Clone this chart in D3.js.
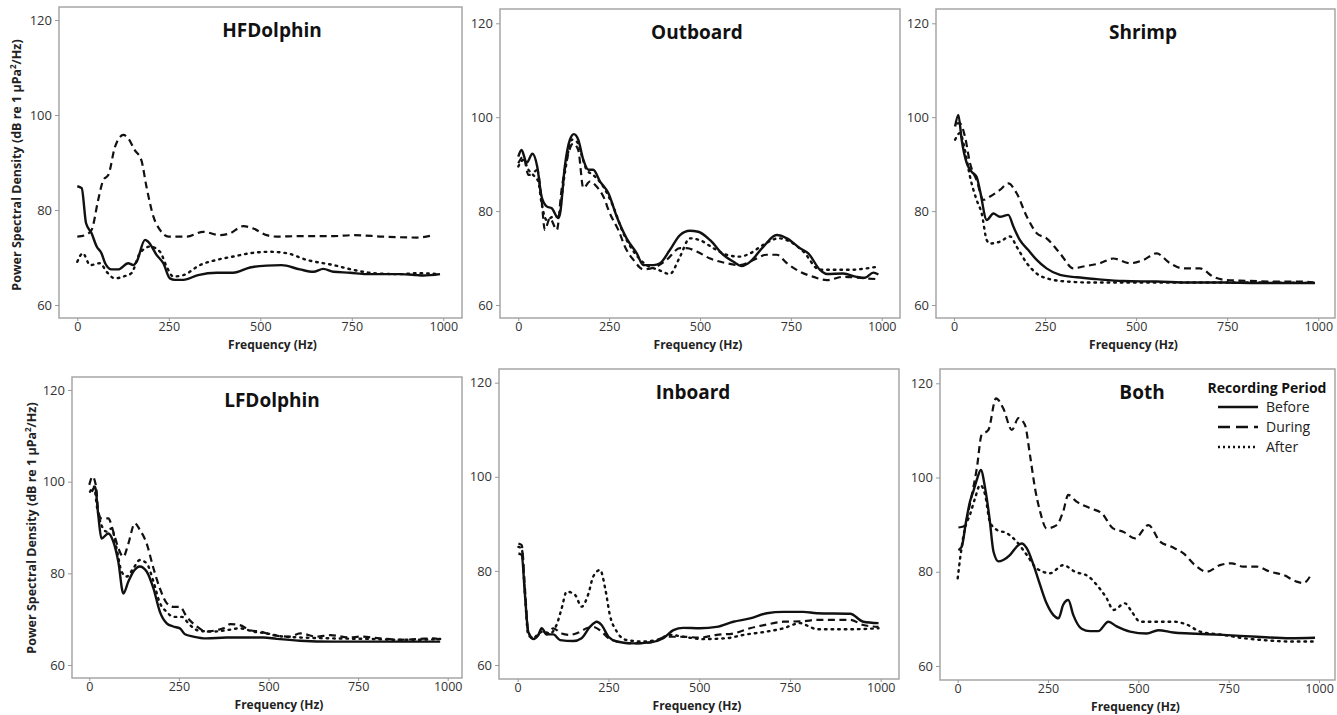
<!DOCTYPE html>
<html><head><meta charset="utf-8">
<script src="https://cdn.jsdelivr.net/npm/d3@7"></script>
<style>
body{margin:0;background:#fff;}
svg text{font-family:"Open Sans","Noto Sans",sans-serif;}
</style></head>
<body><svg id="c" width="1337" height="715"></svg>
<script>
// ---------- data (frequency Hz, PSD dB) ----------
const panelNames = ["HFDolphin","Outboard","Shrimp","LFDolphin","Inboard","Both"];
const periods = ["Before","During","After"];
const xTicks = [0,250,500,750,1000];
const yTicks = [60,80,100,120];

const hfBefore = [[0,85.0],[12,84.6],[24,77.2],[39,75.1],[53,72.3],[66,70.9],[76,68.8],[94,67.5],[112,67.5],[139,68.8],[153,68.4],[162,69.1],[185,73.7],[194,73.3],[217,70.5],[235,68.8],[253,65.6],[267,65.3],[290,65.3],[330,66.3],[381,66.8],[426,66.8],[472,67.9],[517,68.3],[558,68.4],[608,67.5],[645,67.0],[672,67.6],[700,67.0],[745,66.8],[790,66.5],[882,66.5],[927,66.3],[945,66.2],[991,66.5]];
const hfDuring = [[0,74.4],[21,74.7],[39,75.8],[57,82.1],[71,86.3],[85,87.4],[103,93.3],[126,95.8],[139,95.1],[157,92.6],[175,90.5],[189,84.9],[208,78.6],[226,75.8],[249,74.4],[299,74.4],[344,75.4],[390,74.7],[417,75.1],[454,76.6],[481,76.1],[517,74.7],[545,74.4],[608,74.5],[700,74.5],[754,74.7],[836,74.4],[927,74.2],[973,74.7]];
const hfAfter = [[0,69.1],[15,70.9],[35,68.4],[62,68.8],[80,67.0],[103,65.6],[126,66.0],[148,66.7],[171,70.9],[199,72.3],[226,71.2],[244,68.1],[262,66.0],[290,66.3],[335,68.4],[381,69.5],[426,70.2],[472,70.9],[526,71.2],[572,70.9],[627,69.5],[700,68.4],[754,67.4],[809,66.7],[882,66.5],[927,66.7],[991,66.5]];

const obBefore = [[0,91.6],[9,93.0],[23,90.3],[39,92.2],[52,89.5],[64,83.1],[78,81.0],[92,80.6],[110,78.5],[115,79.5],[128,89.5],[142,95.2],[153,96.4],[165,95.2],[179,90.9],[193,88.8],[206,88.8],[225,86.3],[248,83.8],[271,78.8],[298,74.2],[326,71.0],[344,68.5],[372,68.5],[390,68.9],[417,71.7],[445,74.9],[472,75.8],[495,75.6],[528,73.8],[564,70.7],[592,69.2],[615,68.3],[638,69.2],[674,72.4],[711,74.9],[739,74.2],[775,72.1],[798,71.0],[830,67.5],[849,66.6],[894,66.7],[931,66.0],[954,65.8],[977,66.9],[991,66.5]];
const obDuring = [[0,90.2],[14,91.6],[28,87.7],[41,88.1],[52,88.8],[64,82.4],[73,76.0],[87,78.5],[106,76.0],[119,84.5],[138,92.3],[151,94.4],[165,93.0],[179,84.9],[197,86.3],[216,85.2],[234,83.1],[252,79.5],[275,76.0],[298,71.7],[317,69.6],[344,67.6],[381,68.2],[408,69.6],[445,72.1],[463,72.1],[491,71.4],[528,69.9],[573,68.9],[610,68.5],[647,69.6],[683,70.7],[711,70.7],[739,68.9],[775,67.1],[812,66.0],[849,65.3],[894,66.0],[950,65.7],[991,65.5]];
const obAfter = [[0,89.5],[14,90.9],[28,88.8],[41,87.7],[55,86.3],[64,81.7],[78,78.1],[96,78.8],[110,78.8],[128,88.1],[147,95.2],[161,94.8],[174,92.0],[188,88.8],[206,87.7],[234,85.2],[261,81.0],[289,75.3],[321,71.0],[353,68.5],[385,67.5],[417,66.6],[445,70.3],[472,74.2],[500,73.8],[537,72.1],[573,70.7],[610,70.3],[638,71.0],[674,72.8],[716,74.2],[748,73.5],[784,71.4],[830,67.5],[867,67.5],[913,67.5],[959,67.8],[991,68.2]];

const shBefore = [[3,98.0],[12,100.5],[21,95.2],[35,90.2],[48,88.4],[62,87.3],[71,84.5],[90,78.1],[108,79.5],[126,78.8],[149,79.2],[163,76.7],[181,73.8],[204,71.7],[227,69.6],[254,67.8],[291,66.4],[337,65.9],[392,65.5],[465,65.1],[556,65.0],[648,64.8],[739,64.8],[831,64.7],[991,64.7]];
const shDuring = [[3,98.7],[16,98.7],[30,95.9],[44,90.2],[62,86.6],[81,82.4],[99,83.1],[126,84.5],[149,85.9],[172,83.8],[200,78.8],[227,75.3],[254,74.2],[291,71.0],[328,67.8],[355,68.2],[401,68.9],[437,69.9],[483,68.9],[520,69.6],[556,71.0],[593,68.9],[629,67.8],[675,67.8],[712,66.0],[748,65.3],[785,65.2],[876,65.0],[959,65.0],[986,64.8]];
const shAfter = [[3,95.2],[16,96.6],[30,93.0],[44,87.3],[62,82.4],[76,79.5],[90,73.8],[99,73.1],[126,73.5],[154,74.6],[172,72.4],[200,68.9],[227,66.7],[263,65.5],[309,65.0],[373,64.8],[556,64.8],[739,64.8],[991,64.7]];

const lfBefore = [[7,97.8],[16,98.9],[25,92.7],[34,87.6],[53,88.7],[67,86.9],[81,82.5],[95,75.6],[109,78.2],[123,80.4],[141,81.5],[160,80.4],[179,76.7],[197,71.6],[216,69.1],[234,68.4],[253,68.0],[267,66.7],[290,66.2],[327,65.8],[383,66.0],[430,66.0],[486,66.0],[523,65.7],[588,65.3],[681,65.1],[774,65.1],[867,65.1],[979,65.1]];
const lfDuring = [[0,99.3],[9,101.1],[19,98.9],[25,93.5],[34,92.0],[53,92.0],[67,89.1],[81,85.5],[95,83.6],[109,86.5],[127,90.9],[141,89.5],[160,86.5],[179,81.1],[197,76.7],[216,73.5],[234,72.7],[253,72.7],[272,70.5],[300,68.4],[327,67.3],[355,67.6],[374,68.0],[393,68.9],[420,68.7],[448,67.6],[476,67.3],[513,66.5],[560,66.2],[588,66.9],[634,66.2],[672,66.5],[727,66.0],[755,66.2],[811,65.8],[867,65.5],[923,65.7],[960,65.8],[979,65.5]];
const lfAfter = [[2,97.8],[13,98.9],[22,94.2],[34,90.5],[48,89.1],[62,89.8],[76,85.5],[90,80.4],[104,79.3],[123,81.1],[141,82.9],[160,82.2],[179,78.2],[197,73.5],[216,71.6],[234,70.5],[258,70.5],[281,68.7],[309,67.4],[346,67.3],[383,67.6],[420,68.0],[458,67.3],[495,66.9],[541,66.2],[588,66.0],[681,65.8],[774,65.7],[867,65.5],[914,65.5],[979,65.7]];

const inBefore = [[2,83.7],[11,83.4],[20,74.9],[29,67.1],[43,65.5],[57,66.4],[66,67.8],[80,66.5],[98,66.5],[117,65.3],[153,65.1],[176,65.7],[199,68.1],[218,69.2],[231,68.5],[250,66.0],[273,65.0],[319,64.6],[365,64.8],[401,65.7],[429,67.4],[456,67.9],[502,67.8],[548,68.1],[594,69.2],[640,69.9],[686,71.0],[732,71.3],[787,71.3],[824,71.0],[916,70.9],[952,69.2],[994,68.9]];
const inDuring = [[2,85.8],[11,85.5],[20,76.3],[29,67.1],[43,65.7],[57,66.4],[66,67.6],[80,66.5],[98,67.8],[121,66.7],[144,66.4],[167,66.9],[190,67.8],[208,68.1],[231,67.1],[250,65.7],[273,65.0],[319,64.6],[365,64.8],[410,66.0],[456,66.0],[502,65.8],[548,66.4],[594,66.7],[640,67.8],[686,68.6],[732,69.2],[787,69.3],[824,69.6],[916,69.6],[952,68.5],[994,68.1]];
const inAfter = [[2,85.1],[11,84.8],[20,74.9],[29,66.4],[43,65.7],[57,66.7],[71,67.1],[89,66.7],[107,68.5],[121,72.0],[135,75.6],[158,74.9],[176,72.4],[195,75.2],[208,78.8],[227,80.2],[241,76.3],[254,70.6],[273,67.1],[300,65.3],[346,65.0],[383,65.3],[420,66.4],[456,66.0],[511,65.5],[576,65.7],[622,66.4],[686,67.1],[732,67.8],[778,68.9],[805,68.1],[824,67.6],[916,67.6],[994,67.8]];

const boBefore = [[2,84.6],[11,85.3],[23,90.6],[34,94.9],[43,97.0],[54,99.8],[64,101.6],[76,97.7],[88,91.4],[99,84.3],[113,82.2],[126,82.5],[145,83.6],[163,85.3],[177,86.0],[191,85.0],[210,81.4],[228,77.2],[246,73.3],[265,70.8],[279,70.1],[292,73.0],[306,74.0],[320,70.8],[343,67.9],[366,67.4],[389,67.4],[417,69.4],[440,68.4],[477,67.3],[523,66.9],[555,67.6],[597,67.1],[643,66.9],[735,66.6],[828,66.2],[920,65.9],[989,66.0]];
const boDuring = [[2,89.4],[16,89.6],[39,96.3],[53,102.0],[66,109.0],[85,110.1],[106,116.8],[126,114.7],[150,110.1],[168,112.6],[186,111.2],[200,104.8],[214,97.7],[228,92.8],[246,89.2],[274,89.9],[292,92.8],[306,96.3],[329,94.9],[366,93.5],[399,92.4],[430,89.2],[458,88.5],[491,87.1],[528,89.9],[560,86.4],[592,85.3],[625,83.9],[657,81.4],[689,80.0],[726,81.4],[758,81.8],[790,81.1],[827,81.1],[865,80.0],[902,79.3],[938,77.9],[957,77.6],[975,79.0]];
const boAfter = [[0,78.6],[8,83.6],[20,89.2],[34,92.1],[48,95.6],[62,98.4],[76,96.3],[89,90.6],[108,88.9],[136,88.2],[163,86.4],[191,83.6],[219,80.7],[256,79.7],[292,81.4],[325,80.0],[362,79.0],[385,77.2],[412,74.4],[431,71.9],[463,73.3],[482,71.5],[505,69.4],[551,69.4],[597,69.4],[634,68.8],[671,67.3],[735,66.6],[791,65.9],[846,65.5],[920,65.2],[989,65.2]];

const seriesByPanel = [
  [hfBefore, hfDuring, hfAfter],
  [obBefore, obDuring, obAfter],
  [shBefore, shDuring, shAfter],
  [lfBefore, lfDuring, lfAfter],
  [inBefore, inDuring, inAfter],
  [boBefore, boDuring, boAfter]
];

// ---------- layout ----------
const frames = [
  {l:59, t:7,   r:462,  b:318, x0:77.3, x1:443.3, y60:305, y120:20},
  {l:500,t:9,   r:900,  b:318, x0:518.3,x1:881.7, y60:305, y120:23.3},
  {l:936,t:9,   r:1335, b:318, x0:954,  x1:1318.3,y60:305, y120:23.3},
  {l:72, t:377, r:462,  b:678, x0:89.3, x1:447.7, y60:665, y120:390},
  {l:499,t:369, r:899,  b:679, x0:517.7,x1:880.7, y60:665, y120:382.7},
  {l:940,t:369, r:1335, b:680, x0:957.7,x1:1319,  y60:666, y120:383.3}
];
const styles = [
  {w:2.4, dash:null},
  {w:2.2, dash:"7,4.5"},
  {w:2.4, dash:"1.6,5"}
];
const ink = "#111";
const svg = d3.select("#c");

frames.forEach((f, i) => {
  const x = d3.scaleLinear().domain([0,1000]).range([f.x0, f.x1]);
  const y = d3.scaleLinear().domain([60,120]).range([f.y60, f.y120]);
  const g = svg.append("g");
  g.append("rect").attr("x", f.l).attr("y", f.t).attr("width", f.r - f.l).attr("height", f.b - f.t)
    .attr("fill", "none").attr("stroke", "#a6a6a6").attr("stroke-width", 1.5);

  const xa = g.append("g").attr("transform", `translate(0,${f.b})`)
    .call(d3.axisBottom(x).tickValues(xTicks).tickSize(3).tickPadding(2).tickFormat(d3.format("d")));
  xa.select(".domain").remove();
  xa.selectAll("line").attr("stroke", "#999");
  xa.selectAll("text").attr("fill", "#333").style("font-size", "12.5px").attr("dy", "0.62em");

  const ya = g.append("g").attr("transform", `translate(${f.l},0)`)
    .call(d3.axisLeft(y).tickValues(yTicks).tickSize(4).tickPadding(3).tickFormat(d3.format("d")));
  ya.select(".domain").remove();
  ya.selectAll("line").attr("stroke", "#999");
  ya.selectAll("text").attr("fill", "#333").style("font-size", "13px");

  g.append("text").attr("x", (f.l + f.r) / 2 + (i===0||i===3?12:-2)).attr("y", f.b + 31)
    .attr("text-anchor", "middle").style("font-size", "12px").style("font-weight", "bold")
    .attr("fill", "#222").text("Frequency (Hz)");

  const tx = [272, 697, 1143, 272, 693, 1142][i];
  g.append("text").attr("x", tx).attr("y", f.t + 30)
    .attr("text-anchor", "middle").style("font-size", "19px").style("font-weight", "bold")
    .attr("fill", "#111").text(panelNames[i]);

  const line = d3.line().x(d => x(d[0])).y(d => y(d[1])).curve(d3.curveMonotoneX);
  seriesByPanel[i].forEach((s, k) => {
    g.append("path").datum(s).attr("d", line).attr("fill", "none")
      .attr("stroke", ink).attr("stroke-width", styles[k].w)
      .attr("stroke-dasharray", styles[k].dash)
      .attr("stroke-linecap", k === 2 ? "round" : "butt")
      .attr("stroke-linejoin", "round");
  });
});

// y axis titles
[[17,165],[32,528]].forEach(([cx, cy]) => {
  const t = svg.append("text").attr("transform", `translate(${cx},${cy}) rotate(-90)`)
    .attr("text-anchor", "middle").attr("dy", "0.35em")
    .style("font-size", "12.5px").style("font-weight", "bold").attr("fill", "#222");
  t.append("tspan").text("Power Spectral Density (dB re 1 µPa");
  t.append("tspan").attr("baseline-shift", "super").style("font-size", "8px").text("2");
  t.append("tspan").text("/Hz)");
});

// legend
const lg = svg.append("g");
lg.append("text").attr("x", 1267).attr("y", 393).attr("text-anchor", "middle")
  .style("font-size", "14px").style("font-weight", "bold").attr("fill", "#111").text("Recording Period");
const legStyles = [null, "12,6", "2,3"];
periods.forEach((p, k) => {
  const yy = 407 + k * 20;
  lg.append("line").attr("x1", 1218).attr("x2", 1258).attr("y1", yy).attr("y2", yy)
    .attr("stroke", ink).attr("stroke-width", k === 2 ? 2.6 : 2.4)
    .attr("stroke-dasharray", legStyles[k]);
  lg.append("text").attr("x", 1266).attr("y", yy).attr("dy", "0.35em")
    .style("font-size", "14px").attr("fill", "#222").text(p);
});
</script></body></html>
